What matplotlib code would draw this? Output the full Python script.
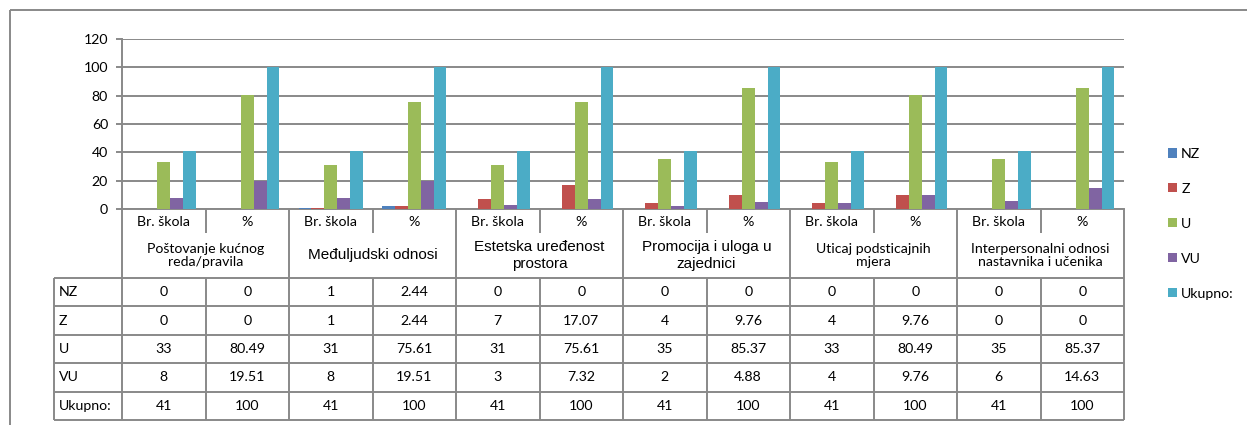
import matplotlib
matplotlib.use('Agg')
import matplotlib.pyplot as plt
import numpy as np

W, H = 1247, 425

groups = ["Poštovanje kućnog\nreda/pravila", "Međuljudski odnosi", "Estetska uređenost\nprostora",
          "Promocija i uloga u\nzajednici", "Uticaj podsticajnih\nmjera",
          "Interpersonalni odnosi\nnastavnika i učenika"]
group_fonts = ["Lato", "Liberation Sans", "Liberation Sans", "Liberation Sans", "Lato", "Lato"]
subcats = ["Br. škola", "%"]
series_names = ["NZ", "Z", "U", "VU", "Ukupno:"]
nz = [0, 0, 1, 2.44, 0, 0, 0, 0, 0, 0, 0, 0]
z = [0, 0, 1, 2.44, 7, 17.07, 4, 9.76, 4, 9.76, 0, 0]
u = [33, 80.49, 31, 75.61, 31, 75.61, 35, 85.37, 33, 80.49, 35, 85.37]
vu = [8, 19.51, 8, 19.51, 3, 7.32, 2, 4.88, 4, 9.76, 6, 14.63]
ukupno = [41, 100, 41, 100, 41, 100, 41, 100, 41, 100, 41, 100]
colors = ["#4F81BD", "#C0504D", "#9BBB59", "#8064A2", "#4BACC6"]

series = [nz, z, u, vu, ukupno]
ncat = len(nz)

# layout in pixels
px_left, px_right = 122, 1124
px_top, px_zero = 39, 209
tbl_left = 54
sub_bottom = 233
grp_bottom = 278
row_h = 28.4
gray = "#898989"
font = "Lato"
fs = 10.2

fig = plt.figure(figsize=(W / 100, H / 100), dpi=100)
ax = fig.add_axes([px_left / W, (H - px_zero) / H, (px_right - px_left) / W, (px_zero - px_top) / H])

bw = 1 / 6.5
x = np.arange(ncat)
for k, (name, vals) in enumerate(zip(series_names, series)):
    ax.bar(x + (k - 2) * bw, vals, bw, color=colors[k], label=name, zorder=3)

ax.set_xlim(-0.5, ncat - 0.5)
ax.set_ylim(0, 120)
ax.set_yticks(range(0, 121, 20))
ax.yaxis.grid(True, color=gray, lw=1.4)
ax.set_axisbelow(True)
ax.set_xticks([])
for s in ["top", "right"]:
    ax.spines[s].set_visible(False)
for s in ["left", "bottom"]:
    ax.spines[s].set_color(gray)
    ax.spines[s].set_linewidth(1.4)
ax.tick_params(axis="y", length=4, width=1.4, color=gray, pad=6, labelsize=fs)
for lab in ax.get_yticklabels():
    lab.set_fontfamily(font)

# overlay for the category axis and data table
ov = fig.add_axes([0, 0, 1, 1], zorder=5)
ov.set_xlim(0, W)
ov.set_ylim(H, 0)
ov.axis("off")
ov.patch.set_alpha(0)

colw = (px_right - px_left) / ncat
row_tops = [grp_bottom + i * row_h for i in range(len(series) + 1)]
tbl_bottom = row_tops[-1]

def line(xs, ys, **kw):
    ov.plot(xs, ys, color=gray, lw=1.4, solid_capstyle="butt", **kw)

# outer chart frame
line([10, 10], [10, H])
line([10, W], [10, 10])

# vertical separators
for i in range(ncat + 1):
    xx = px_left + i * colw
    if i % 2 == 0:
        line([xx, xx], [px_zero, tbl_bottom])
    else:
        line([xx, xx], [px_zero, sub_bottom])
        line([xx, xx], [grp_bottom, tbl_bottom])
line([tbl_left, tbl_left], [grp_bottom, tbl_bottom])
for yy in row_tops:
    line([tbl_left, px_right], [yy, yy])

# sub-category and group labels
for i in range(ncat):
    ov.text(px_left + (i + 0.5) * colw, (px_zero + sub_bottom) / 2 + 1, subcats[i % 2],
            ha="center", va="center", fontsize=fs, family=font)
for g, name in enumerate(groups):
    gfs = 11 if group_fonts[g] == "Liberation Sans" else fs
    ov.text(px_left + (2 * g + 1) * colw, (sub_bottom + grp_bottom) / 2, name,
            ha="center", va="center", fontsize=gfs, family=group_fonts[g], linespacing=1.2)

# table rows
for r, (name, vals) in enumerate(zip(series_names, series)):
    yc = row_tops[r] + row_h / 2
    ov.text(tbl_left + 5, yc, name, ha="left", va="center", fontsize=fs, family=font)
    for i, v in enumerate(vals):
        ov.text(px_left + (i + 0.5) * colw, yc, f"{v:g}", ha="center", va="center",
                fontsize=fs, family=font)

# legend
leg = fig.legend(*ax.get_legend_handles_labels(), loc="upper left",
                 bbox_to_anchor=(1155 / W, 1 - 135 / H), frameon=False,
                 handlelength=0.65, handleheight=0.65, handletextpad=0.3,
                 labelspacing=1.62, prop={"family": font, "size": fs})

fig.savefig("out.png", dpi=100)
